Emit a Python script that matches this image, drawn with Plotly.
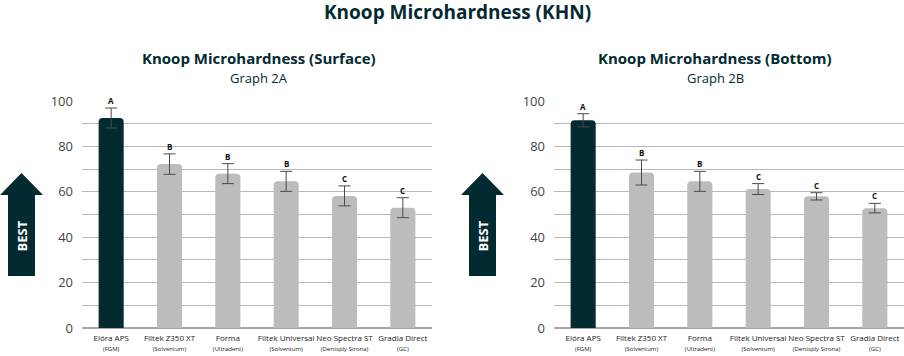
import plotly.graph_objects as go

# ---- data ----
categories = ["Elóra APS", "Filtek Z350 XT", "Forma", "Filtek Universal", "Neo Spectra ST", "Gradia Direct"]
manufacturers = ["(FGM)", "(Solventum)", "(Ultradent)", "(Solventum)", "(Dentsply Sirona)", "(GC)"]
surface_values = [92.5, 72.2, 68.0, 64.6, 58.2, 53.0]
surface_errors = [4.4, 4.5, 4.4, 4.4, 4.4, 4.4]
surface_letters = ["A", "B", "B", "B", "C", "C"]
bottom_values = [91.5, 68.5, 64.6, 61.2, 58.0, 52.8]
bottom_errors = [2.9, 5.5, 4.4, 2.4, 1.6, 2.1]
bottom_letters = ["A", "B", "B", "C", "C", "C"]
y_ticks = [0, 20, 40, 60, 80, 100]

W, H = 904, 356
DARK = "#032a31"
GRAY = "#bdbcbc"
FONT = "Open Sans"

def px(x):
    return x / W

def py(y):
    return 1 - y / H

tick_text = [f"{c}<br><span style='font-size:6px'>{m}</span>" for c, m in zip(categories, manufacturers)]
colors = [DARK] + [GRAY] * (len(categories) - 1)

fig = go.Figure()
panels = [
    ("x", "y", surface_values, surface_errors, surface_letters),
    ("x2", "y2", bottom_values, bottom_errors, bottom_letters),
]
for xa, ya, vals, errs, letters in panels:
    fig.add_trace(go.Bar(
        x=categories, y=vals, xaxis=xa, yaxis=ya,
        marker=dict(color=colors, cornerradius=4, line=dict(width=0)),
        width=0.43,
        error_y=dict(type="data", array=errs, visible=True, color="#4a4a4a", thickness=1, width=6),
        showlegend=False, hoverinfo="skip",
    ))
    for c, v, e, l in zip(categories, vals, errs, letters):
        fig.add_annotation(x=c, y=v + e, xref=xa, yref=ya, text=f"<b>{l}</b>",
                           showarrow=False, xanchor="center", yanchor="bottom", yshift=0,
                           font=dict(family=FONT, size=8, color="#111"))

ydom = [py(328), py(101)]
axis_y = dict(range=[0, 100], tickvals=y_ticks, showgrid=True, gridcolor="#b8b8b8", gridwidth=1,
              zeroline=True, zerolinecolor="#a8a8a8", zerolinewidth=2, showline=False,
              tickfont=dict(family=FONT, size=13, color="#444"), ticks="", ticklabelstandoff=8,
              minor=dict(dtick=10, showgrid=True, gridcolor="#b8b8b8", gridwidth=1), fixedrange=True)
axis_x = dict(type="category", tickvals=categories, ticktext=tick_text, showgrid=False, showline=False,
              tickfont=dict(family=FONT, size=8, color="#222"), ticks="", tickangle=0,
              ticklabelstandoff=4, fixedrange=True)

fig.update_layout(
    width=W, height=H, margin=dict(l=0, r=0, t=0, b=0, autoexpand=False),
    paper_bgcolor="white", plot_bgcolor="white", bargap=0.5,
    xaxis=dict(axis_x, domain=[px(82), px(432)], anchor="y"),
    xaxis2=dict(axis_x, domain=[px(554), px(904)], anchor="y2"),
    yaxis=dict(axis_y, domain=ydom, anchor="x"),
    yaxis2=dict(axis_y, domain=ydom, anchor="x2"),
)

def note(x, y, text, size, color=DARK, angle=0):
    fig.add_annotation(x=px(x), y=py(y), xref="paper", yref="paper", text=text,
                       xanchor="center", yanchor="middle", textangle=angle,
                       showarrow=False, font=dict(family=FONT, size=size, color=color))

# titles
note(457, 11.5, "<b>Knoop Microhardness (KHN)</b>", 19)
for cx, t1, t2 in [(259, "Knoop Microhardness (Surface)", "Graph 2A"),
                   (715, "Knoop Microhardness (Bottom)", "Graph 2B")]:
    note(cx, 58.5, f"<b>{t1}</b>", 15)
    note(cx, 78, t2, 13)

# BEST arrows
for x0 in [0, 461]:
    pts = [(x0 + 8, 276), (x0 + 8, 195), (x0, 195), (x0 + 21.5, 173), (x0 + 43, 195), (x0 + 35, 195), (x0 + 35, 276)]
    path = "M " + " L ".join(f"{px(a)},{py(b)}" for a, b in pts) + " Z"
    fig.add_shape(type="path", path=path, xref="paper", yref="paper", fillcolor=DARK, line=dict(width=0))
    note(x0 + 21.5, 236, "<b>BEST</b>", 13, color="white", angle=-90)

fig.write_html("out.html", config={"displayModeBar": False},
               post_script="document.body.style.margin='0';document.body.style.overflow='hidden';")
